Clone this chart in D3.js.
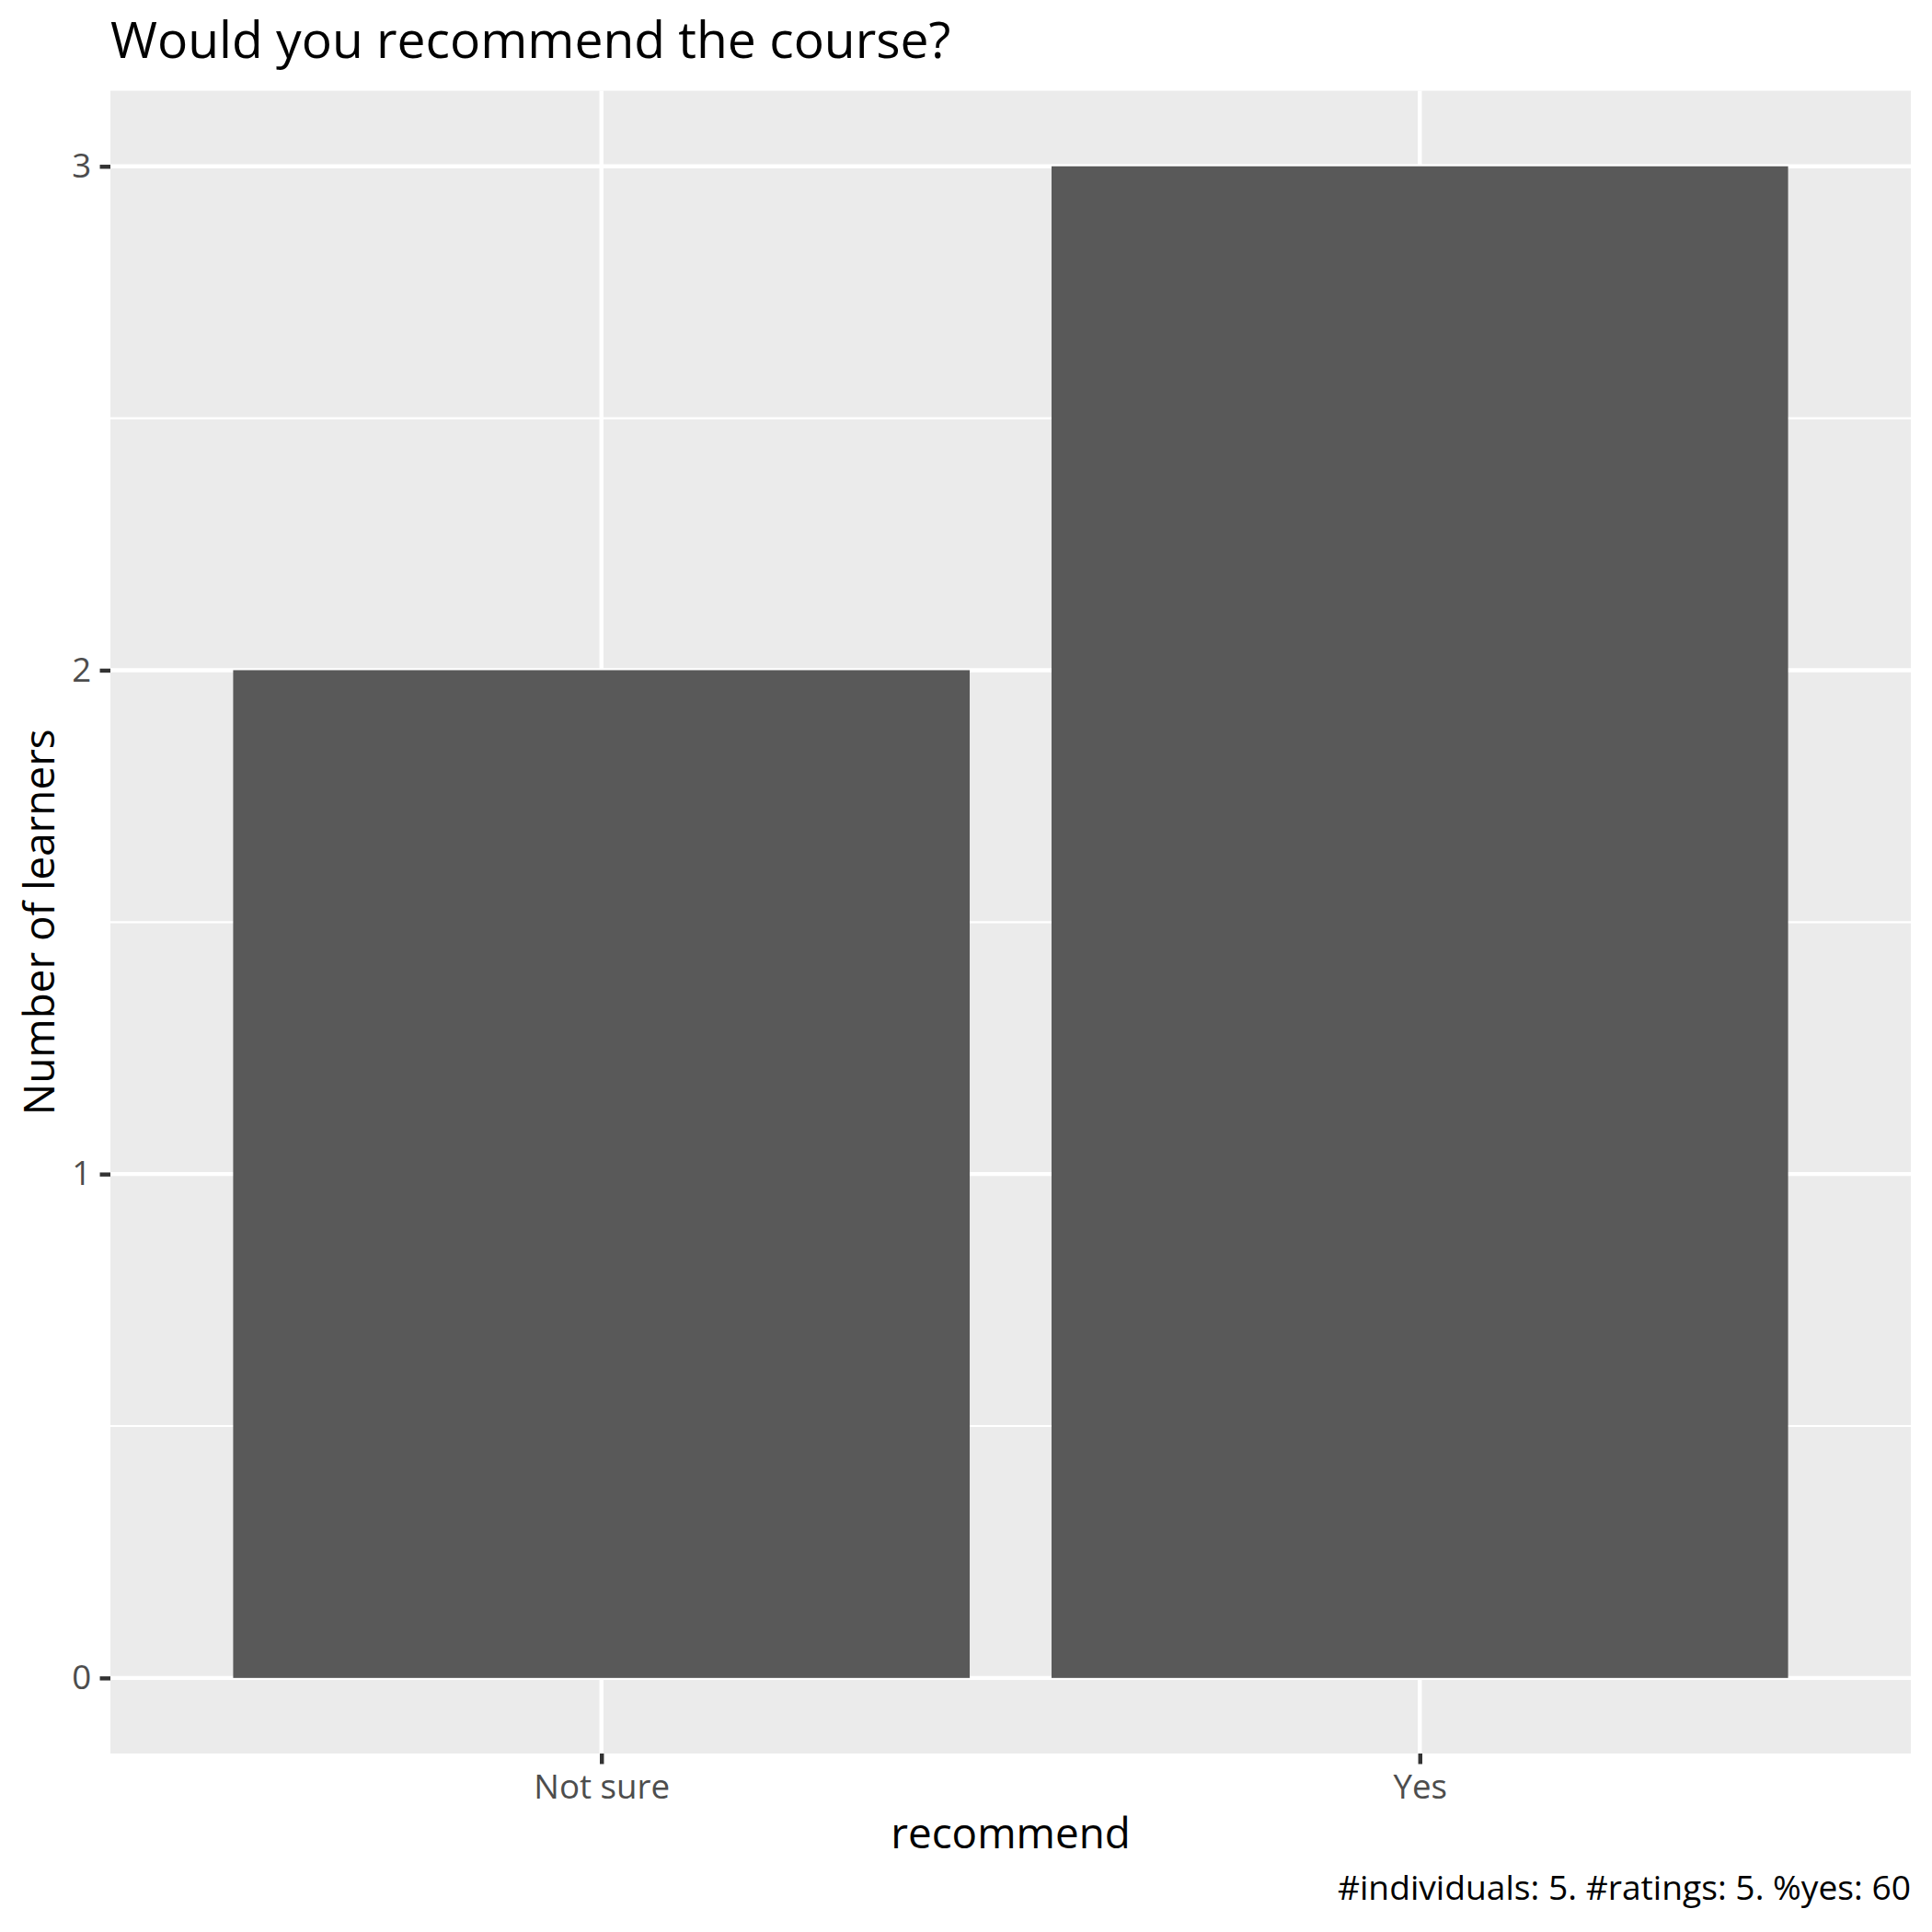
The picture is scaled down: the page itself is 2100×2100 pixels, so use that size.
<!DOCTYPE html>
<html><head><meta charset="utf-8">
<script src="https://cdn.jsdelivr.net/npm/d3@7"></script>
<style>body{margin:0;background:#fff}svg{display:block}text{font-family:"Open Sans","Noto Sans",sans-serif}</style>
</head><body>
<script>
const categories = ["Not sure", "Yes"];
const counts = [2, 3];
const yTicks = [0, 1, 2, 3];
const yMinor = [0.5, 1.5, 2.5];
const titleText = "Would you recommend the course?";
const xTitle = "recommend";
const yTitle = "Number of learners";
const captionText = "#individuals: 5. #ratings: 5. %yes: 60";

const W = 2100, H = 2100;
const pL = 120, pR = 2077, pT = 98.6, pB = 1906;
const svg = d3.select("body").append("svg").attr("width", W).attr("height", H);
svg.append("rect").attr("width", W).attr("height", H).attr("fill", "#fff");

// discrete x: positions 1..n, expand 0.6
const n = categories.length;
const xPos = d3.scaleLinear().domain([0.4, n + 0.6]).range([pL, pR]);
const x = c => xPos(categories.indexOf(c) + 1);
const unit = xPos(1) - xPos(0);
const maxV = d3.max(counts);
const y = d3.scaleLinear().domain([-0.05 * maxV, maxV * 1.05]).range([pB, pT]);

svg.append("rect").attr("x", pL).attr("y", pT).attr("width", pR - pL).attr("height", pB - pT).attr("fill", "#EBEBEB");

const g = svg.append("g");
g.selectAll(".minor").data(yMinor).join("line")
  .attr("x1", pL).attr("x2", pR).attr("y1", d => y(d)).attr("y2", d => y(d))
  .attr("stroke", "#fff").attr("stroke-width", 2.22);
g.selectAll(".majy").data(yTicks).join("line")
  .attr("x1", pL).attr("x2", pR).attr("y1", d => y(d)).attr("y2", d => y(d))
  .attr("stroke", "#fff").attr("stroke-width", 4.44);
g.selectAll(".majx").data(categories).join("line")
  .attr("y1", pT).attr("y2", pB).attr("x1", d => x(d)).attr("x2", d => x(d))
  .attr("stroke", "#fff").attr("stroke-width", 4.44);

// bars
svg.selectAll(".bar").data(categories).join("rect")
  .attr("x", d => x(d) - 0.45 * unit)
  .attr("width", 0.9 * unit)
  .attr("y", (d, i) => y(counts[i]))
  .attr("height", (d, i) => y(0) - y(counts[i]))
  .attr("fill", "#595959");

// axes
const tickLen = 11.46;
const yAxis = d3.axisLeft(y).tickValues(yTicks).tickFormat(d3.format("d")).tickSize(tickLen).tickPadding(9.2);
const ya = svg.append("g").attr("transform", `translate(${pL},0)`).call(yAxis);
ya.select(".domain").remove();
ya.selectAll(".tick line").attr("stroke", "#333333").attr("stroke-width", 4.44);
ya.selectAll(".tick text").attr("fill", "#4D4D4D").attr("font-size", 36.7)
  .attr("font-family", '"Open Sans","Noto Sans",sans-serif');

const xBand = d3.scalePoint().domain(categories).range([x(categories[0]), x(categories[n - 1])]);
const xAxis = d3.axisBottom(xBand).tickSize(tickLen).tickPadding(11.5);
const xa = svg.append("g").attr("transform", `translate(0,${pB})`).call(xAxis);
xa.select(".domain").remove();
xa.selectAll(".tick line").attr("stroke", "#333333").attr("stroke-width", 4.44);
xa.selectAll(".tick text").attr("fill", "#4D4D4D").attr("font-size", 36.7)
  .attr("font-family", '"Open Sans","Noto Sans",sans-serif');

// titles
svg.append("text").attr("x", pL).attr("y", 63).attr("font-size", 55.2).attr("fill", "#000").text(titleText);
svg.append("text").attr("x", (pL + pR) / 2).attr("y", 2009).attr("text-anchor", "middle")
  .attr("font-size", 45.8).attr("fill", "#000").text(xTitle);
svg.append("text").attr("transform", `translate(59,${(pT + pB) / 2}) rotate(-90)`)
  .attr("text-anchor", "middle").attr("font-size", 45.8).attr("fill", "#000").text(yTitle);
svg.append("text").attr("x", pR).attr("y", 2065).attr("text-anchor", "end")
  .attr("font-size", 37.2).attr("fill", "#000").text(captionText);
</script>
</body></html>
